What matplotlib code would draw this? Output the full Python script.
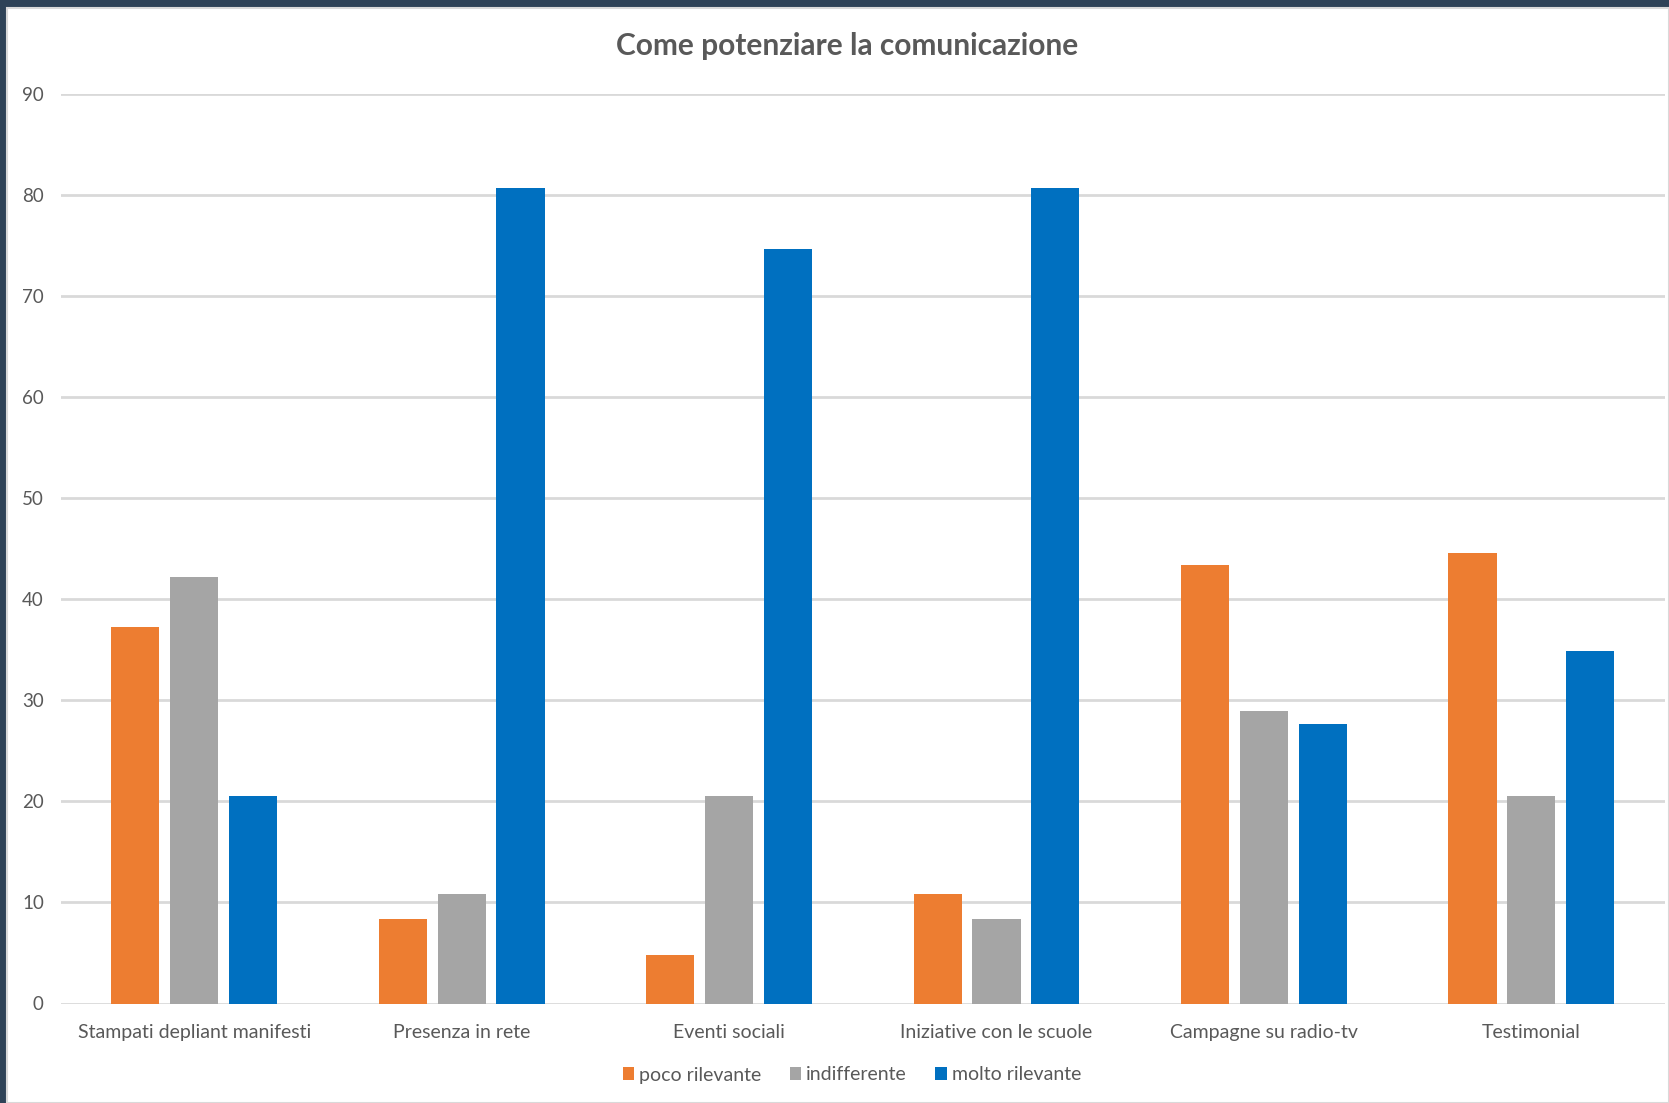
import matplotlib
import matplotlib.pyplot as plt
import numpy as np
from matplotlib.patches import Rectangle

matplotlib.use("Agg")

categories = [
    "Stampati depliant manifesti",
    "Presenza in rete",
    "Eventi sociali",
    "Iniziative con le scuole",
    "Campagne su radio-tv",
    "Testimonial",
]
poco_rilevante = [37.3, 8.4, 4.8, 10.8, 43.4, 44.6]
indifferente = [42.2, 10.8, 20.5, 8.4, 28.9, 20.5]
molto_rilevante = [20.5, 80.7, 74.7, 80.7, 27.7, 34.9]

series = [
    ("poco rilevante", poco_rilevante, "#ed7d31"),
    ("indifferente", indifferente, "#a5a5a5"),
    ("molto rilevante", molto_rilevante, "#0070c0"),
]

TEXT = "#595959"
GRID = "#d9d9d9"
FONT = ["Lato", "DejaVu Sans"]

W, H = 1669, 1103
fig = plt.figure(figsize=(W / 100, H / 100), dpi=100, facecolor="#2e4257")

# white chart area sitting on the dark slide background
fig.patches.append(
    Rectangle((7 / W, 0), 1 - 7 / W, 1 - 8 / H, transform=fig.transFigure,
              facecolor="white", edgecolor=GRID, linewidth=1.5, zorder=-10)
)

left, right = 60.5 / W, 1665 / W
bottom, top = 1 - 1003.5 / H, 1 - 94 / H
ax = fig.add_axes([left, bottom, right - left, top - bottom])
ax.set_facecolor("none")

x = np.arange(len(categories))
width = 0.18
offsets = [-0.22, 0.0, 0.22]
for (name, values, color), off in zip(series, offsets):
    ax.bar(x + off, values, width, color=color, label=name, zorder=3)

ax.set_xlim(-0.5, len(categories) - 0.5)
ax.set_ylim(0, 90)
ax.set_yticks(range(0, 91, 10))
ax.set_xticks(x)
ax.set_xticklabels(categories)
ax.grid(axis="y", color=GRID, linewidth=2, zorder=0)
ax.set_axisbelow(True)
for side in ["top", "right", "left", "bottom"]:
    ax.spines[side].set_visible(False)
ax.tick_params(axis="both", length=0, colors=TEXT)
ax.tick_params(axis="y", pad=12, labelsize=13.5)
ax.tick_params(axis="x", pad=15, labelsize=14)
for lbl in ax.get_xticklabels() + ax.get_yticklabels():
    lbl.set_family(FONT)

fig.text(847 / W, 1 - 46 / H, "Come potenziare la comunicazione",
         ha="center", va="center", fontsize=21.5, fontweight="bold",
         color=TEXT, family=FONT)

leg = fig.legend(loc="center", bbox_to_anchor=(852 / W, 28 / H), ncol=3,
                 frameon=False, handlelength=0.6, handleheight=0.6,
                 handletextpad=0.25, columnspacing=1.45,
                 prop={"family": FONT, "size": 14})
for t in leg.get_texts():
    t.set_color(TEXT)

fig.savefig("out.png", dpi=100, facecolor=fig.get_facecolor())
